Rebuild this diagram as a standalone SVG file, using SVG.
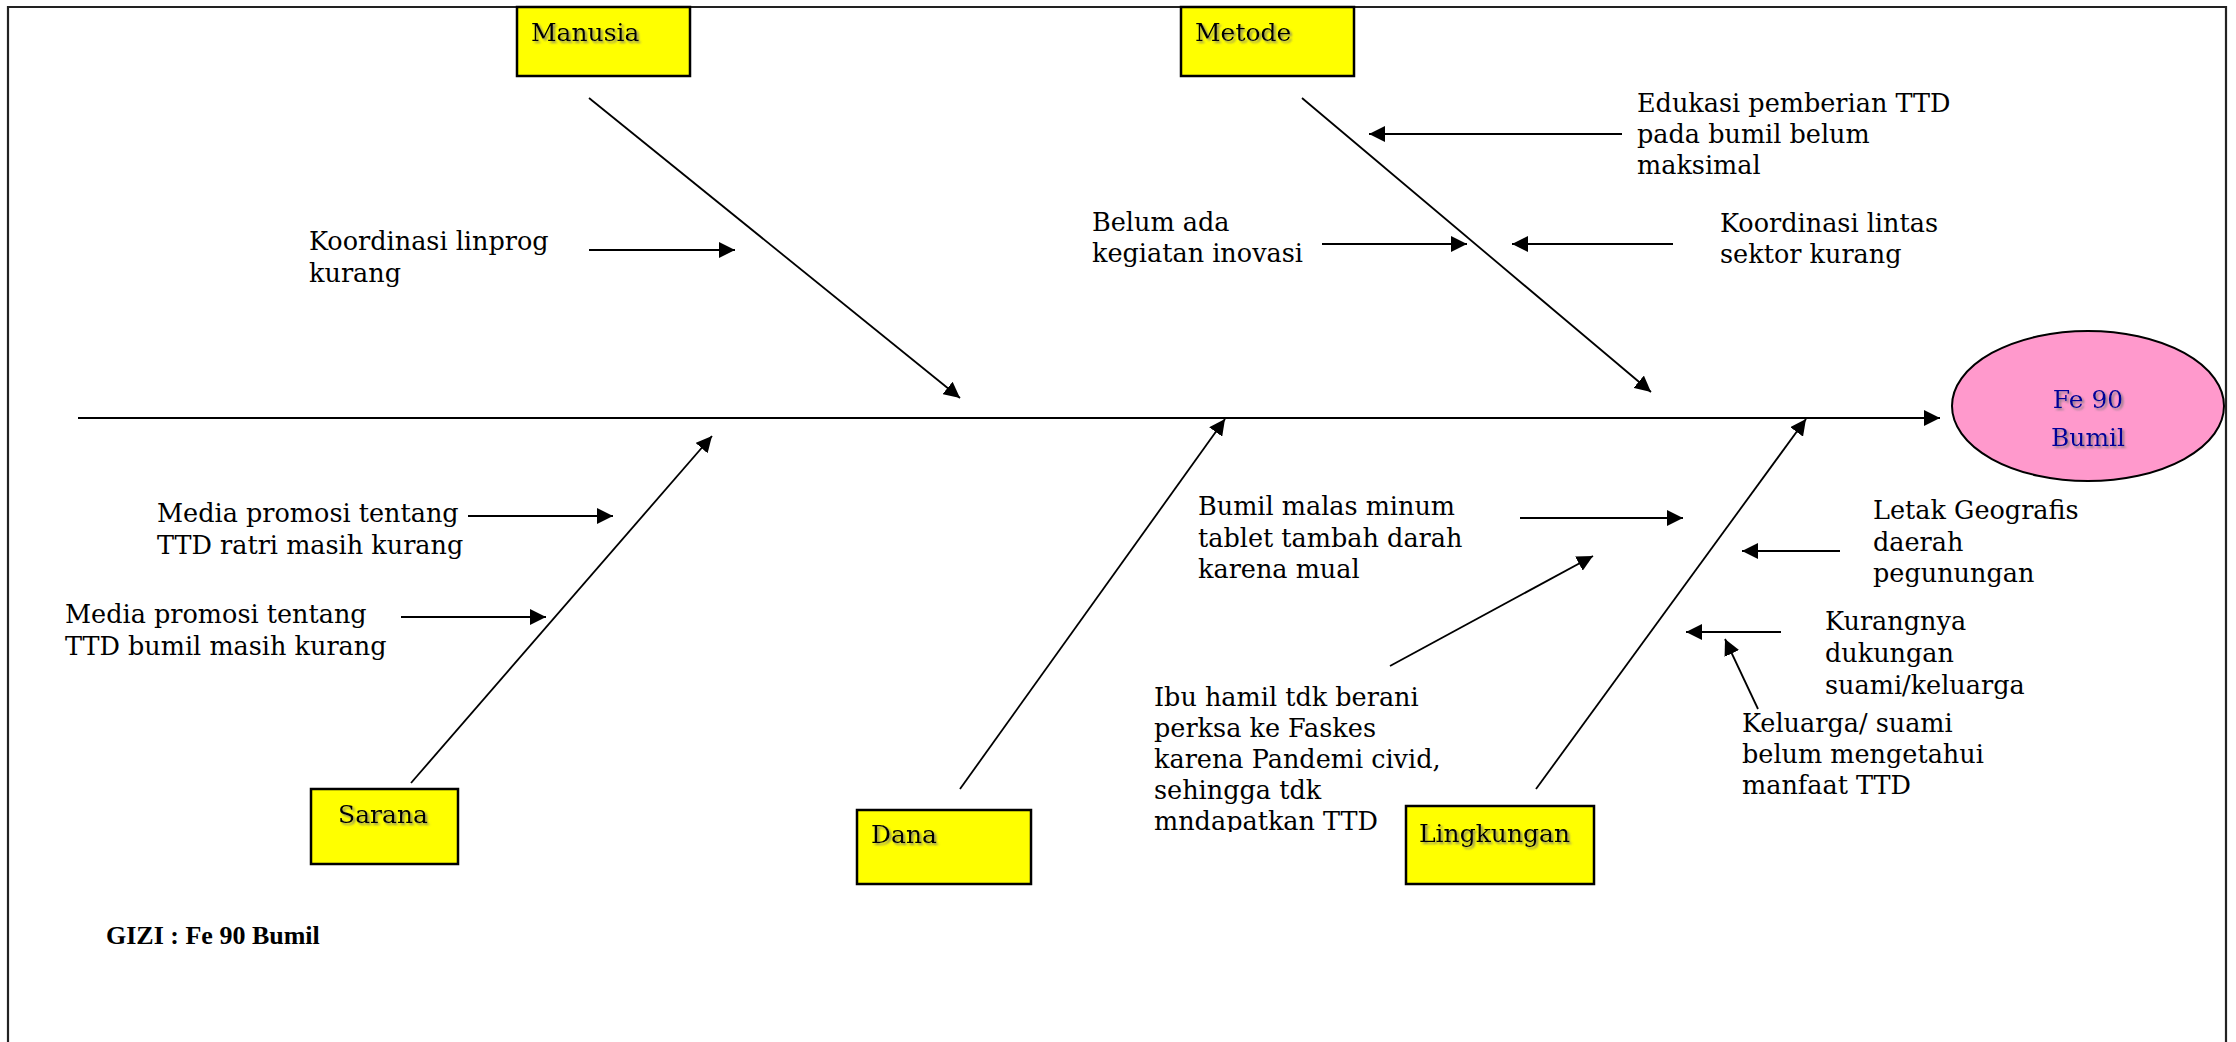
<svg xmlns="http://www.w3.org/2000/svg" width="2236" height="1042" viewBox="0 0 2236 1042">
<defs>
<style>
.t{font-family:"DejaVu Serif","Liberation Serif",serif;font-size:25.5px;fill:#000}
.lbl{font-family:"DejaVu Serif","Liberation Serif",serif;font-size:25px;fill:#000;filter:url(#sh)}
.box{fill:#FFFF00;stroke:#000;stroke-width:2.5}
.ln{stroke:#000;stroke-width:1.8;fill:none}
.sa{stroke:#000;stroke-width:2.2;fill:none}
</style>
<filter id="sh" x="-10%" y="-30%" width="130%" height="180%">
<feDropShadow dx="2" dy="2" stdDeviation="1" flood-color="#777" flood-opacity="0.8"/>
</filter>
<marker id="ah" markerUnits="userSpaceOnUse" markerWidth="18" markerHeight="16" refX="16" refY="8" orient="auto">
<path d="M0,0 L16,8 L0,16 z" fill="#000"/>
</marker>
<clipPath id="clipIbu"><rect x="1140" y="670" width="320" height="162"/></clipPath>
</defs>
<rect x="0" y="0" width="2236" height="1042" fill="#fff"/>
<g id="frame">
<path d="M8,1050 L8,7 L2226,7 L2226,1050" fill="none" stroke="#222" stroke-width="2.2"/>
</g>

<g id="connectors">
<line class="sa" x1="78" y1="418" x2="1940" y2="418" marker-end="url(#ah)"/>
<line class="ln" x1="589" y1="98" x2="960" y2="398" marker-end="url(#ah)"/>
<line class="ln" x1="1302" y1="98" x2="1651" y2="392" marker-end="url(#ah)"/>
<line class="ln" x1="411" y1="783" x2="712" y2="436" marker-end="url(#ah)"/>
<line class="ln" x1="960" y1="789" x2="1225" y2="419" marker-end="url(#ah)"/>
<line class="ln" x1="1536" y1="789" x2="1806" y2="419" marker-end="url(#ah)"/>
<line class="sa" x1="589" y1="250" x2="735" y2="250" marker-end="url(#ah)"/>
<line class="sa" x1="1622" y1="134" x2="1369" y2="134" marker-end="url(#ah)"/>
<line class="sa" x1="1322" y1="244" x2="1467" y2="244" marker-end="url(#ah)"/>
<line class="sa" x1="1673" y1="244" x2="1512" y2="244" marker-end="url(#ah)"/>
<line class="sa" x1="468" y1="516" x2="613" y2="516" marker-end="url(#ah)"/>
<line class="sa" x1="401" y1="617" x2="546" y2="617" marker-end="url(#ah)"/>
<line class="sa" x1="1520" y1="518" x2="1683" y2="518" marker-end="url(#ah)"/>
<line class="ln" x1="1390" y1="666" x2="1593" y2="556" marker-end="url(#ah)"/>
<line class="sa" x1="1840" y1="551" x2="1742" y2="551" marker-end="url(#ah)"/>
<line class="sa" x1="1781" y1="632" x2="1686" y2="632" marker-end="url(#ah)"/>
<line class="ln" x1="1758" y1="709" x2="1725" y2="639" marker-end="url(#ah)"/>
</g>

<g id="node-manusia">
<rect class="box" x="517" y="7" width="173" height="69"/>
<text class="lbl" x="531" y="41">Manusia</text>
</g>
<g id="node-metode">
<rect class="box" x="1181" y="7" width="173" height="69"/>
<text class="lbl" x="1195" y="41">Metode</text>
</g>
<g id="node-sarana">
<rect class="box" x="311" y="789" width="147" height="75"/>
<text class="lbl" x="338" y="823">Sarana</text>
</g>
<g id="node-dana">
<rect class="box" x="857" y="810" width="174" height="74"/>
<text class="lbl" x="871" y="843">Dana</text>
</g>
<g id="node-lingkungan">
<rect class="box" x="1406" y="806" width="188" height="78"/>
<text class="lbl" x="1419" y="842">Lingkungan</text>
</g>
<g id="node-effect">
<ellipse cx="2088" cy="406" rx="136" ry="75" fill="#FF99CC" stroke="#000" stroke-width="2"/>
<text class="lbl" x="2088" y="408" text-anchor="middle" style="fill:#000099">Fe 90</text>
<text class="lbl" x="2088" y="446" text-anchor="middle" style="fill:#000099">Bumil</text>
</g>

<g id="cause-koordinasi-linprog">
<text class="t" x="309" y="250">Koordinasi linprog</text>
<text class="t" x="309" y="282">kurang</text>
</g>
<g id="cause-edukasi">
<text class="t" x="1637" y="112">Edukasi pemberian TTD</text>
<text class="t" x="1637" y="143">pada bumil belum</text>
<text class="t" x="1637" y="174">maksimal</text>
</g>
<g id="cause-inovasi">
<text class="t" x="1092" y="231">Belum ada</text>
<text class="t" x="1092" y="262">kegiatan inovasi</text>
</g>
<g id="cause-lintas-sektor">
<text class="t" x="1720" y="232">Koordinasi lintas</text>
<text class="t" x="1720" y="263">sektor kurang</text>
</g>
<g id="cause-media-ratri">
<text class="t" x="157" y="522">Media promosi tentang</text>
<text class="t" x="157" y="554">TTD ratri masih kurang</text>
</g>
<g id="cause-media-bumil">
<text class="t" x="65" y="623">Media promosi tentang</text>
<text class="t" x="65" y="655">TTD bumil masih kurang</text>
</g>
<g id="cause-malas">
<text class="t" x="1198" y="515">Bumil malas minum</text>
<text class="t" x="1198" y="547">tablet tambah darah</text>
<text class="t" x="1198" y="578">karena mual</text>
</g>
<g id="cause-pandemi" clip-path="url(#clipIbu)">
<text class="t" x="1154" y="706">Ibu hamil tdk berani</text>
<text class="t" x="1154" y="737">perksa ke Faskes</text>
<text class="t" x="1154" y="768">karena Pandemi civid,</text>
<text class="t" x="1154" y="799">sehingga tdk</text>
<text class="t" x="1154" y="830">mndapatkan TTD</text>
</g>
<g id="cause-geografis">
<text class="t" x="1873" y="519">Letak Geografis</text>
<text class="t" x="1873" y="551">daerah</text>
<text class="t" x="1873" y="582">pegunungan</text>
</g>
<g id="cause-dukungan">
<text class="t" x="1825" y="630">Kurangnya</text>
<text class="t" x="1825" y="662">dukungan</text>
<text class="t" x="1825" y="694">suami/keluarga</text>
</g>
<g id="cause-manfaat">
<text class="t" x="1742" y="732">Keluarga/ suami</text>
<text class="t" x="1742" y="763">belum mengetahui</text>
<text class="t" x="1742" y="794">manfaat TTD</text>
</g>
<g id="title">
<text x="106" y="944" style="font-family:'Liberation Serif',serif;font-weight:bold;font-size:26px">GIZI : Fe 90 Bumil</text>
</g>
</svg>
